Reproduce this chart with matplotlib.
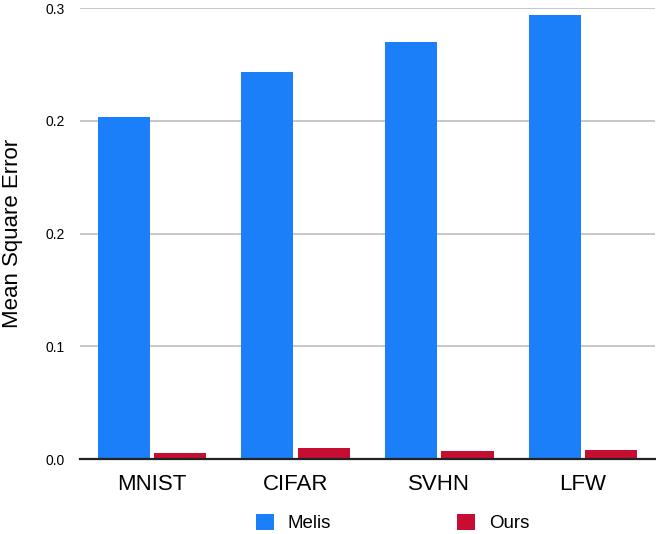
import matplotlib
matplotlib.use('Agg')
import matplotlib.pyplot as plt
import numpy as np

# data
datasets = ['MNIST', 'CIFAR', 'SVHN', 'LFW']
melis = [0.2277, 0.2575, 0.2774, 0.2951]
ours = [0.0040, 0.0073, 0.0055, 0.0062]
ytick_vals = [0.0, 0.075, 0.15, 0.225, 0.3]
ytick_labels = ['0.0', '0.1', '0.2', '0.2', '0.3']

blue = '#1b7ff9'
red = '#c70d31'
plt.rcParams['font.family'] = ['Liberation Sans', 'DejaVu Sans']

fig = plt.figure(figsize=(6.56, 5.34), dpi=100)
ax = fig.add_axes([0.12195, 0.1399, 0.8761, 0.8451])

x = np.arange(len(datasets))
w = 0.362
off = 0.197
ax.bar(x - off, melis, w, color=blue, label='Melis', zorder=3)
ax.bar(x + off, ours, w, color=red, label='Ours', zorder=3)

ax.set_xlim(-0.5, 3.5)
ax.set_ylim(0, 0.3)
ax.set_yticks(ytick_vals)
ax.set_yticklabels(ytick_labels, fontsize=10)
ax.set_xticks(x)
ax.set_xticklabels(datasets, fontsize=16)
ax.tick_params(axis='y', length=0, pad=11)
ax.tick_params(axis='x', length=0, pad=10.5)
ax.grid(axis='y', color='#bdbdbd', linewidth=1.2, zorder=0)

for s in ['top', 'right', 'left']:
    ax.spines[s].set_visible(False)
ax.spines['bottom'].set_linewidth(1.6)
ax.spines['bottom'].set_color('#222222')
ax.spines['bottom'].set_zorder(4)

ax.set_ylabel('Mean Square Error', fontsize=16, va='center')
ax.yaxis.set_label_coords(-0.1175, 0.5)

fig.legend(loc='center', bbox_to_anchor=(0.5983, 0.0206), ncol=2,
           frameon=False, prop={'size': 13.5},
           handlelength=0.96, handleheight=0.93, handletextpad=0.71,
           columnspacing=6.77, borderpad=0, borderaxespad=0)

fig.savefig('out.png', dpi=100)
